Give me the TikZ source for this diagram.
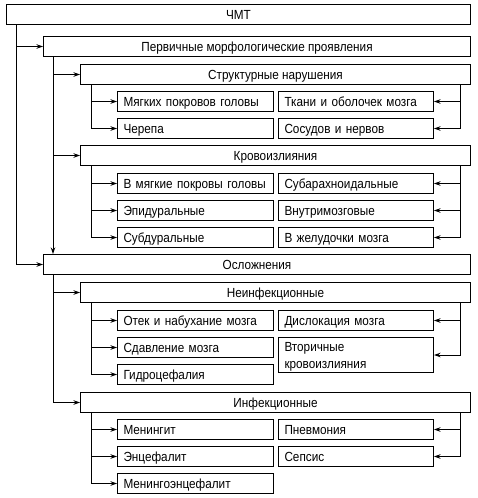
\documentclass[tikz,border=0pt]{standalone}
\usepackage{fontspec}
\setmainfont{Liberation Sans}[FakeStretch=0.89]
\usetikzlibrary{arrows.meta}
\begin{document}
\begin{tikzpicture}[x=1pt,y=-1pt,
  every node/.style={font=\fontsize{13.2}{16.5}\selectfont},
  hbox/.style={draw,line width=1pt,inner sep=0pt,anchor=north west,minimum height=20pt,text height=9.6pt,text depth=0pt},
  lbox/.style={draw,line width=1pt,inner xsep=6pt,inner ysep=0pt,anchor=north west,minimum height=20pt,align=left,text height=9.6pt,text depth=0pt},
  arr/.style={line width=1pt,-{Stealth[length=6.5pt,width=4.5pt]}},
  ln/.style={line width=1pt}]
\useasboundingbox (0,0) rectangle (478,498);
% headers
\node[hbox,minimum width=464pt] (cmt) at (6,4) {ЧМТ};
\node[hbox,minimum width=427pt] (perv) at (43,36) {Первичные морфологические проявления};
\node[hbox,minimum width=390pt] (str) at (80,64) {Структурные нарушения};
\node[hbox,minimum width=390pt] (krov) at (80,145) {Кровоизлияния};
\node[hbox,minimum width=427pt] (osl) at (43,254) {Осложнения};
\node[hbox,minimum width=390pt] (neinf) at (80,282) {Неинфекционные};
\node[hbox,minimum width=390pt] (inf) at (80,392) {Инфекционные};
% leaves: structural
\node[lbox,text width=144pt] (s1) at (117,91) {Мягких покровов головы};
\node[lbox,text width=143pt] (s2) at (278,91) {Ткани и оболочек мозга};
\node[lbox,text width=144pt] (s3) at (117,118) {Черепа};
\node[lbox,text width=143pt] (s4) at (278,118) {Сосудов и нервов};
% leaves: hemorrhages
\node[lbox,text width=144pt] (k1) at (117,173) {В мягкие покровы головы};
\node[lbox,text width=143pt] (k2) at (278,173) {Субарахноидальные};
\node[lbox,text width=144pt] (k3) at (117,200) {Эпидуральные};
\node[lbox,text width=143pt] (k4) at (278,200) {Внутримозговые};
\node[lbox,text width=144pt] (k5) at (117,227) {Субдуральные};
\node[lbox,text width=143pt] (k6) at (278,227) {В желудочки мозга};
% leaves: non-infectious
\node[lbox,text width=144pt] (n1) at (117,310) {Отек и набухание мозга};
\node[lbox,text width=143pt] (n2) at (278,310) {Дислокация мозга};
\node[lbox,text width=144pt] (n3) at (117,337) {Сдавление мозга};
\node[lbox,text width=143pt,minimum height=35pt,text depth=16.5pt] (n4) at (278,337) {Вторичные\\кровоизлияния};
\node[lbox,text width=144pt] (n5) at (117,364) {Гидроцефалия};
% leaves: infectious
\node[lbox,text width=144pt] (i1) at (117,419) {Менингит};
\node[lbox,text width=143pt] (i2) at (278,419) {Пневмония};
\node[lbox,text width=144pt] (i3) at (117,446) {Энцефалит};
\node[lbox,text width=143pt] (i4) at (278,446) {Сепсис};
\node[lbox,text width=144pt] (i5) at (117,473) {Менингоэнцефалит};
% main connectors
\coordinate (c0) at ([xshift=10pt]cmt.south west);
\draw[arr] (c0) |- (perv.west);
\draw[arr] (c0) |- (osl.west);
\coordinate (c1) at ([xshift=10pt]perv.south west);
\draw[arr] (c1) |- (str.west);
\draw[arr] (c1) |- (krov.west);
\draw[arr] (c1) -- (c1 |- osl.north);
\coordinate (c2) at ([xshift=10pt]osl.south west);
\draw[arr] (c2) |- (neinf.west);
\draw[arr] (c2) |- (inf.west);
% structural
\coordinate (sl) at ([xshift=11pt]str.south west);
\coordinate (sr) at ([xshift=-11pt]str.south east);
\draw[arr] (sl) |- (s1.west);
\draw[arr] (sl) |- (s3.west);
\draw[arr] (sr) |- (s2.east);
\draw[arr] (sr) |- (s4.east);
% hemorrhages
\coordinate (kl) at ([xshift=11pt]krov.south west);
\coordinate (kr) at ([xshift=-11pt]krov.south east);
\draw[arr] (kl) |- (k1.west);
\draw[arr] (kl) |- (k3.west);
\draw[arr] (kl) |- (k5.west);
\draw[arr] (kr) |- (k2.east);
\draw[arr] (kr) |- (k4.east);
\draw[arr] (kr) |- (k6.east);
% non-infectious
\coordinate (nl) at ([xshift=11pt]neinf.south west);
\coordinate (nr) at ([xshift=-11pt]neinf.south east);
\draw[arr] (nl) |- (n1.west);
\draw[arr] (nl) |- (n3.west);
\draw[arr] (nl) |- (n5.west);
\draw[arr] (nr) |- (n2.east);
\draw[arr] (nr) |- (n4.east);
% infectious
\coordinate (il) at ([xshift=11pt]inf.south west);
\coordinate (ir) at ([xshift=-11pt]inf.south east);
\draw[arr] (il) |- (i1.west);
\draw[arr] (il) |- (i3.west);
\draw[arr] (il) |- (i5.west);
\draw[arr] (ir) |- (i2.east);
\draw[arr] (ir) |- (i4.east);
\end{tikzpicture}
\end{document}
